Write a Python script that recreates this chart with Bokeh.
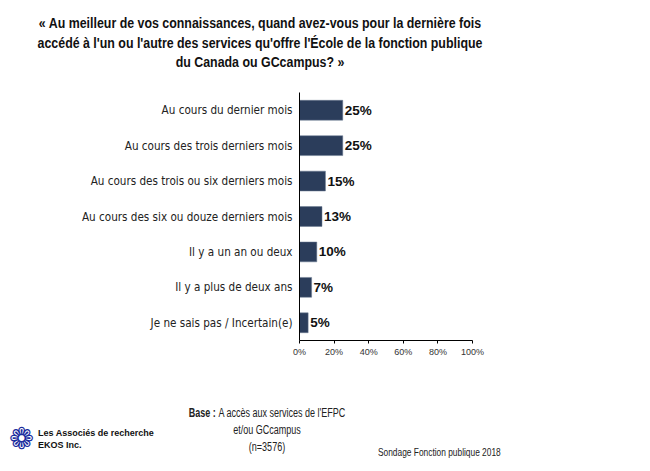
from bokeh.plotting import figure
from bokeh.models import ColumnDataSource, FixedTicker, Range1d, FactorRange, Div
from bokeh.layouts import column
from bokeh.embed import file_html
from bokeh.resources import INLINE
from bokeh.core.properties import value

categories = [
    "Au cours du dernier mois",
    "Au cours des trois derniers mois",
    "Au cours des trois ou six derniers mois",
    "Au cours des six ou douze derniers mois",
    "Il y a un an ou deux",
    "Il y a plus de deux ans",
    "Je ne sais pas / Incertain(e)",
]
values = [25, 25, 15, 13, 10, 7, 5]
x_ticks = [0, 20, 40, 60, 80, 100]
title_lines = [
    "« Au meilleur de vos connaissances, quand avez-vous pour la dernière fois",
    "accédé à l'un ou l'autre des services qu'offre l'École de la fonction publique",
    "du Canada ou GCcampus? »",
]
base_label = "Base :"
base_lines = ["A accès aux services de l'EFPC", "et/ou GCcampus", "(n=3576)"]
firm_lines = ["Les Associés de recherche", "EKOS Inc."]
source_note = "Sondage Fonction publique 2018"

NARROW = "DejaVu Sans Condensed"
BAR = "#2b3d5b"

W = 634
HEAD_H = 82                          # header strip: page y 0..82
FL, FT, FW, FH = 299, 10, 173, 248   # main frame (FT relative to main fig)
MAIN_H = 285                         # main figure: page y 82..367
FOOT_H = 88                          # footer strip: page y 367..455


def span(x, base_y, text, size, align="left", bold=False, scale=1.0,
         color="#222222", font="Liberation Sans"):
    top = base_y - 0.85 * size
    if align == "center":
        tf = f"translateX(-50%) scaleX({scale})"
        origin = "center"
    else:
        tf = f"scaleX({scale})"
        origin = "left"
    return (f'<div style="position:absolute;left:{x}px;top:{top:.1f}px;'
            f'font-family:\'{font}\';font-size:{size}px;line-height:1;'
            f'font-weight:{"bold" if bold else "normal"};color:{color};'
            f'white-space:nowrap;transform:{tf};transform-origin:{origin};">'
            f'{text}</div>')


def strip(h, inner):
    return Div(text=(f'<div style="position:relative;width:{W}px;height:{h}px;'
                     f'overflow:visible;">{inner}</div>'),
               width=W, height=h, margin=0)


# ---- header
head_html = "".join(
    span(260, 28 + 19.5 * i, t, 14, align="center", bold=True, scale=0.885,
         color="#111111")
    for i, t in enumerate(title_lines))
head = strip(HEAD_H, head_html)

# ---- main chart
p = figure(width=W, height=MAIN_H, output_backend="svg", toolbar_location=None,
           y_range=FactorRange(*list(reversed(categories)), range_padding=0),
           x_range=Range1d(0, 100),
           min_border_left=FL, min_border_top=FT,
           min_border_right=W - FL - FW, min_border_bottom=MAIN_H - FT - FH)
p.outline_line_color = None
p.grid.visible = False
p.border_fill_color = "white"

src = ColumnDataSource(dict(cat=categories, val=values,
                            lab=[f"{v}%" for v in values]))
p.hbar(y="cat", right="val", left=0, height=0.56, source=src,
       fill_color=BAR, line_color="#6b7a90", line_width=0.5)
p.text(x="val", y="cat", text="lab", source=src, x_offset=2,
       text_align="left", text_baseline="middle",
       text_font=value("Liberation Sans"), text_font_style="bold",
       text_font_size="13.5px", text_color="#111111")

yax = p.yaxis[0]
yax.axis_line_color = "black"
yax.major_tick_line_color = None
yax.minor_tick_line_color = None
yax.major_label_standoff = 1
yax.major_label_text_font = NARROW
yax.major_label_text_font_size = "11.6px"
yax.major_label_text_color = "#222222"

xax = p.xaxis[0]
xax.ticker = FixedTicker(ticks=x_ticks)
xax.major_label_overrides = {t: f"{t}%" for t in x_ticks}
xax.axis_line_color = "black"
xax.major_tick_line_color = "black"
xax.major_tick_out = 3
xax.major_tick_in = 0
xax.minor_tick_line_color = None
xax.major_label_standoff = 3
xax.major_label_text_font = "Liberation Sans"
xax.major_label_text_font_size = "9px"
xax.major_label_text_color = "#333333"

# ---- footer (page coordinates shifted by the strip's top)
Y0 = HEAD_H + MAIN_H
base_first = f'<b>{base_label}</b>&nbsp;{base_lines[0]}'
foot_html = "".join([
    span(267, 417 - Y0, base_first, 12, align="center", scale=0.75),
    span(267, 434 - Y0, base_lines[1], 12, align="center", scale=0.75),
    span(267, 451 - Y0, base_lines[2], 12, align="center", scale=0.75),
    span(378, 456 - Y0, source_note, 11, scale=0.76),
    span(9, 449 - Y0, "❁", 30, font="DejaVu Sans", color="#1a2d9e"),
    span(38, 437 - Y0, firm_lines[0], 9, bold=True, color="#111111"),
    span(38, 449 - Y0, firm_lines[1], 9, bold=True, color="#111111"),
])
foot = strip(FOOT_H, foot_html)

layout = column(head, p, foot, spacing=0)
open("out.html", "w").write(file_html(layout, INLINE))
